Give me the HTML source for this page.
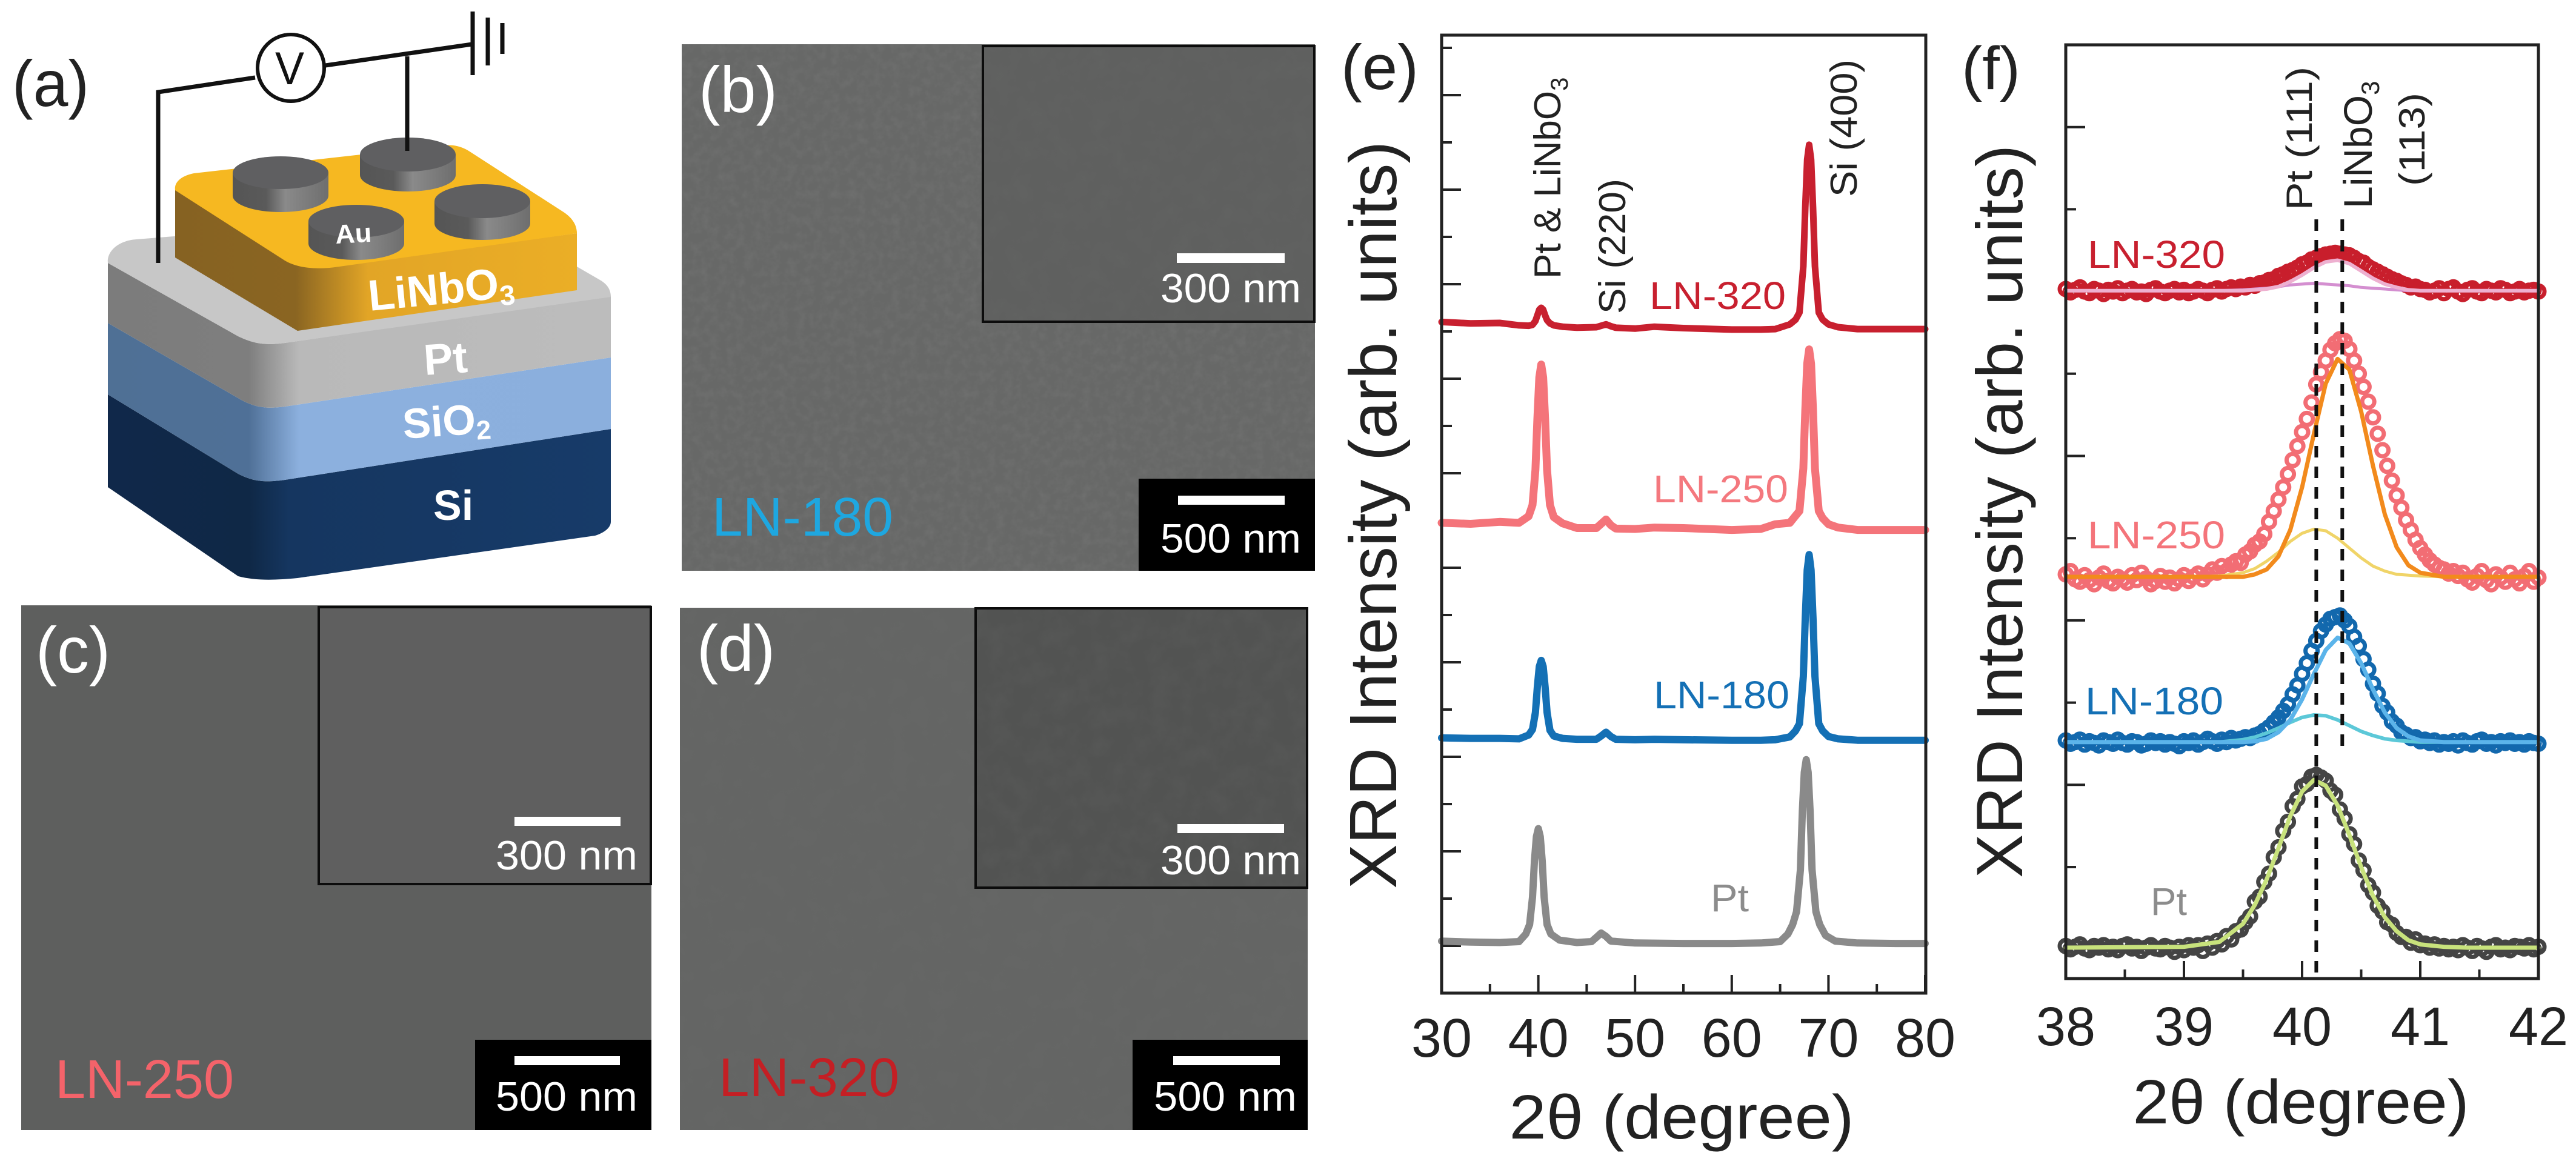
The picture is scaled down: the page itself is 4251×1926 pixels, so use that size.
<!DOCTYPE html>
<html lang="en">
<head>
<meta charset="utf-8">
<title>LiNbO3 device schematic, SEM images and XRD patterns</title>
<style>
html,body{margin:0;padding:0;background:#fff}
svg{display:block}
text{font-family:"Liberation Sans",sans-serif}
</style>
</head>
<body>
<svg id="fig" xmlns="http://www.w3.org/2000/svg" width="4251" height="1926" viewBox="0 0 4251 1926">
<defs>
<filter id="grain" x="0" y="0" width="100%" height="100%"><feTurbulence type="fractalNoise" baseFrequency="0.07" numOctaves="3" seed="4"/><feColorMatrix type="matrix" values="0 0 0 0 0.5  0 0 0 0 0.5  0 0 0 0 0.5  1.6 0 0 0 -0.6"/></filter>
<filter id="grainDark" x="0" y="0" width="100%" height="100%"><feTurbulence type="fractalNoise" baseFrequency="0.03" numOctaves="3" seed="9"/><feColorMatrix type="matrix" values="0 0 0 0 0.2  0 0 0 0 0.2  0 0 0 0 0.2  1.4 0 0 0 -0.5"/></filter>
<linearGradient id="gSi" x1="178" x2="1008" y1="0" y2="0" gradientUnits="userSpaceOnUse"><stop offset="0" stop-color="#10284a"/><stop offset=".28" stop-color="#0f2846"/><stop offset=".36" stop-color="#153660"/><stop offset="1" stop-color="#173b69"/></linearGradient>
<linearGradient id="gSiO2" x1="178" x2="1008" y1="0" y2="0" gradientUnits="userSpaceOnUse"><stop offset="0" stop-color="#4f7095"/><stop offset=".28" stop-color="#4f7097"/><stop offset=".38" stop-color="#8cb0de"/><stop offset="1" stop-color="#8bafdd"/></linearGradient>
<linearGradient id="gPt" x1="178" x2="1008" y1="0" y2="0" gradientUnits="userSpaceOnUse"><stop offset="0" stop-color="#7c7c7c"/><stop offset=".28" stop-color="#7e7e7e"/><stop offset=".38" stop-color="#b9b9b9"/><stop offset="1" stop-color="#bcbcbc"/></linearGradient>
<linearGradient id="gLN" x1="289" x2="952" y1="0" y2="0" gradientUnits="userSpaceOnUse"><stop offset="0" stop-color="#866222"/><stop offset=".3" stop-color="#8a6522"/><stop offset=".48" stop-color="#e2a526"/><stop offset="1" stop-color="#ebae26"/></linearGradient>
<linearGradient id="gCyl" x1="0" x2="1" y1="0" y2="0"><stop offset="0" stop-color="#555"/><stop offset=".35" stop-color="#5a5a5a"/><stop offset=".55" stop-color="#8a8a8a"/><stop offset="1" stop-color="#6e6e6e"/></linearGradient>
</defs>

<g>
 <text x="20" y="175" font-size="108" textLength="127" lengthAdjust="spacingAndGlyphs" fill="#222">(a)</text>
 <path fill="url(#gSi)" d="M178 651L393 782C420 796 440 796 470 792L1008 708V861C1008 872 995 880 982 884L491 954C450 958 420 958 393 951L178 804Z"/>
 <path fill="url(#gSiO2)" d="M178 533L393 657C420 673 440 675 470 671L1008 590V708L470 792C440 796 420 796 393 782L178 651Z"/>
 <path fill="url(#gPt)" d="M178 434L393 555C420 568 440 570 470 566L1008 488V590L470 671C440 675 420 673 393 657L178 533Z"/>
 <path fill="#c7c7c7" d="M178 434C176 415 195 397 225 395L300 389L952 440L990 462C1004 470 1008 480 1008 490L470 566C440 570 420 568 393 555Z"/>
 <path fill="url(#gLN)" d="M289 312V425L491 546L952 479V385L540 440Z"/>
 <path fill="#f6b821" d="M289 314C287 300 300 290 320 286L730 240C750 238 762 242 775 250L930 350C948 362 952 375 952 385L560 440C520 446 490 442 470 430Z"/>
 <g><path fill="url(#gCyl)" d="M384 285V323A79 27 0 0 0 542 323V285Z"/><ellipse cx="463" cy="285" rx="79" ry="27" fill="#5f5f61"/></g>
 <g><path fill="url(#gCyl)" d="M594 255V289A79 27 0 0 0 752 289V255Z"/><ellipse cx="673" cy="255" rx="79" ry="28" fill="#5f5f61"/></g>
 <g><path fill="url(#gCyl)" d="M717 332V369A79 27 0 0 0 875 369V332Z"/><ellipse cx="796" cy="332" rx="79" ry="28" fill="#5f5f61"/></g>
 <g><path fill="url(#gCyl)" d="M509 365V402A79 27 0 0 0 667 402V365Z"/><ellipse cx="588" cy="365" rx="79" ry="27" fill="#5f5f61"/></g>
 <text x="554" y="402" font-size="44" font-weight="bold" fill="#fff" textLength="60" lengthAdjust="spacingAndGlyphs" transform="rotate(-3 554 402)">Au</text>
 <text x="610" y="513" font-size="72" font-weight="bold" fill="#fff" transform="rotate(-5.5 610 513)">LiNbO<tspan font-size="46" dy="12">3</tspan></text>
 <text x="701" y="619" font-size="72" font-weight="bold" fill="#fff" transform="rotate(-4 701 619)">Pt</text>
 <text x="666" y="724" font-size="70" font-weight="bold" fill="#fff" transform="rotate(-4 666 724)">SiO<tspan font-size="44" dy="10">2</tspan></text>
 <text x="715" y="858" font-size="70" font-weight="bold" fill="#fff">Si</text>
 <path d="M261 434V152L421 128M537 108L779 73M672 93V249" fill="none" stroke="#111" stroke-width="7"/>
 <circle cx="480" cy="112" r="55" fill="#fff" stroke="#111" stroke-width="6"/>
 <text x="478" y="139" font-size="76" text-anchor="middle" fill="#111" textLength="48" lengthAdjust="spacingAndGlyphs">V</text>
 <path d="M780 19V124M805 29V108M829 38V89" fill="none" stroke="#111" stroke-width="7"/>
</g>

<g>
 <rect x="1125" y="73" width="1045" height="869" fill="#676867"/>
 <rect x="1125" y="73" width="1045" height="869" filter="url(#grain)" opacity=".1"/>
 <rect x="1622" y="76" width="547" height="455" fill="#5f605f" stroke="#0c0c0c" stroke-width="4"/>
 <rect x="1624" y="78" width="543" height="451" filter="url(#grainDark)" opacity=".12"/>
 <rect x="1879" y="790" width="291" height="152" fill="#000"/>
 <rect x="1942" y="418" width="178" height="16" fill="#fff"/>
 <text x="1915" y="499" font-size="68" fill="#fff" textLength="232" lengthAdjust="spacingAndGlyphs">300 nm</text>
 <rect x="1944" y="818" width="176" height="15" fill="#fff"/>
 <text x="1915" y="912" font-size="68" fill="#fff" textLength="232" lengthAdjust="spacingAndGlyphs">500 nm</text>
 <text x="1153" y="185" font-size="108" fill="#fff" textLength="130" lengthAdjust="spacingAndGlyphs">(b)</text>
 <text x="1175" y="884" font-size="90" fill="#1ea7e0" textLength="299" lengthAdjust="spacingAndGlyphs">LN-180</text>
</g>

<g>
 <rect x="35" y="999" width="1040" height="866" fill="#5e5f5e"/>
 <rect x="526" y="1002" width="548" height="457" fill="#5f5f5f" stroke="#0c0c0c" stroke-width="4"/>
 <rect x="784" y="1716" width="291" height="149" fill="#000"/>
 <rect x="849" y="1348" width="175" height="15" fill="#fff"/>
 <text x="818" y="1435" font-size="68" fill="#fff" textLength="234" lengthAdjust="spacingAndGlyphs">300 nm</text>
 <rect x="849" y="1743" width="174" height="15" fill="#fff"/>
 <text x="818" y="1833" font-size="68" fill="#fff" textLength="234" lengthAdjust="spacingAndGlyphs">500 nm</text>
 <text x="59" y="1110" font-size="108" fill="#fff" textLength="123" lengthAdjust="spacingAndGlyphs">(c)</text>
 <text x="91" y="1812" font-size="90" fill="#f4636a" textLength="295" lengthAdjust="spacingAndGlyphs">LN-250</text>
</g>

<g>
 <rect x="1122" y="1003" width="1036" height="862" fill="#646564"/>
 <rect x="1122" y="1003" width="1036" height="862" filter="url(#grainDark)" opacity=".1"/>
 <rect x="1610" y="1004" width="547" height="461" fill="#525352" stroke="#0c0c0c" stroke-width="4"/>
 <rect x="1612" y="1006" width="543" height="457" filter="url(#grainDark)" opacity=".16"/>
 <rect x="1869" y="1716" width="289" height="149" fill="#000"/>
 <rect x="1943" y="1360" width="176" height="15" fill="#fff"/>
 <text x="1915" y="1443" font-size="68" fill="#fff" textLength="232" lengthAdjust="spacingAndGlyphs">300 nm</text>
 <rect x="1936" y="1743" width="176" height="15" fill="#fff"/>
 <text x="1904" y="1833" font-size="68" fill="#fff" textLength="236" lengthAdjust="spacingAndGlyphs">500 nm</text>
 <text x="1150" y="1107" font-size="108" fill="#fff" textLength="129" lengthAdjust="spacingAndGlyphs">(d)</text>
 <text x="1186" y="1809" font-size="90" fill="#c41f24" textLength="298" lengthAdjust="spacingAndGlyphs">LN-320</text>
</g>

<g id="panelE">
 <text x="2213" y="147" font-size="105" fill="#222" textLength="128" lengthAdjust="spacingAndGlyphs">(e)</text>
 <text transform="translate(2304,1467) rotate(-90)" font-size="110" fill="#222" textLength="1234" lengthAdjust="spacingAndGlyphs">XRD Intensity (arb. units)</text>
 <text x="2775" y="1879" font-size="103" text-anchor="middle" fill="#222" textLength="569" lengthAdjust="spacingAndGlyphs">2θ (degree)</text>
</g>
<g id="panelEText">
 <text transform="translate(2575,460) rotate(-90)" font-size="62" fill="#222">Pt &amp; LiNbO<tspan font-size="40" dy="12">3</tspan></text>
 <text transform="translate(2682,518) rotate(-90)" font-size="62" fill="#222" textLength="223" lengthAdjust="spacingAndGlyphs">Si (220)</text>
 <text transform="translate(3064,325) rotate(-90)" font-size="62" fill="#222" textLength="227" lengthAdjust="spacingAndGlyphs">Si (400)</text>
 <text x="2722" y="510" font-size="64" fill="#c8202f" textLength="225" lengthAdjust="spacingAndGlyphs">LN-320</text>
 <text x="2728" y="829" font-size="64" fill="#f4787e" textLength="223" lengthAdjust="spacingAndGlyphs">LN-250</text>
 <text x="2729" y="1169" font-size="64" fill="#1470b5" textLength="224" lengthAdjust="spacingAndGlyphs">LN-180</text>
 <text x="2823" y="1504" font-size="64" fill="#8c8c8c" textLength="63" lengthAdjust="spacingAndGlyphs">Pt</text>
</g>

<g id="panelF">
 <text x="3237" y="147" font-size="100" fill="#222" textLength="97" lengthAdjust="spacingAndGlyphs">(f)</text>
 <text transform="translate(3337,1449) rotate(-90)" font-size="108" fill="#222" textLength="1210" lengthAdjust="spacingAndGlyphs">XRD Intensity (arb. units)</text>
 <text x="3797" y="1854" font-size="103" text-anchor="middle" fill="#222" textLength="555" lengthAdjust="spacingAndGlyphs">2θ (degree)</text>
</g>
<g id="panelFText">
 <text transform="translate(3815,347) rotate(-90)" font-size="60" fill="#222" textLength="237" lengthAdjust="spacingAndGlyphs">Pt (111)</text>
 <text transform="translate(3914,344) rotate(-90)" font-size="66" fill="#222">LiNbO<tspan font-size="42" dy="12">3</tspan></text>
 <text transform="translate(4001,307) rotate(-90)" font-size="60" fill="#222" textLength="154" lengthAdjust="spacingAndGlyphs">(113)</text>
 <text x="3445" y="442" font-size="64" fill="#c8202f" textLength="227" lengthAdjust="spacingAndGlyphs">LN-320</text>
 <text x="3445" y="905" font-size="64" fill="#f4747a" textLength="227" lengthAdjust="spacingAndGlyphs">LN-250</text>
 <text x="3441" y="1179" font-size="64" fill="#1470b5" textLength="228" lengthAdjust="spacingAndGlyphs">LN-180</text>
 <text x="3549" y="1510" font-size="64" fill="#8c8c8c" textLength="60" lengthAdjust="spacingAndGlyphs">Pt</text>
</g>
</svg>

<script>
// ---------- Panel (e) data ----------
const eXTicks = [30, 40, 50, 60, 70, 80];
const eXMinorTicks = [35, 45, 55, 65, 75];
const eYMajorTicks = [1, 3, 5, 7, 9, 11, 13, 15, 17, 19];
const eYMinorTicks = [2, 4, 6, 8, 10, 12, 14, 16, 18, 20];
const eTheta = [30,33,36,38,39,39.4,39.7,39.9,40.1,40.3,40.5,40.7,40.9,41.2,41.6,42.5,44,46,46.5,47,47.5,48,50,52,55,60,63,64.5,66,66.6,67,67.4,67.6,67.8,68,68.2,68.4,68.6,69,69.4,70,71,73,77,80];
const eThetaPt = [30,33,36,38,38.7,39.1,39.4,39.6,39.8,40,40.2,40.4,40.6,40.9,41.3,42.2,44,45.5,46,46.5,47,47.5,50,55,60,63,65,65.8,66.3,66.7,67.1,67.3,67.5,67.7,67.9,68.1,68.3,68.7,69.1,69.7,70.7,73,77,80];
const eLN320 = [14.20,14.17,14.18,14.13,14.12,14.14,14.22,14.34,14.46,14.50,14.46,14.34,14.24,14.17,14.13,14.10,14.08,14.09,14.12,14.15,14.11,14.08,14.06,14.10,14.07,14.04,14.04,14.05,14.15,14.25,14.40,15.38,16.62,17.64,17.95,17.64,16.62,15.38,14.40,14.25,14.15,14.09,14.05,14.05,14.05];
const eLN250 = [9.95,9.93,9.97,9.95,10.09,10.33,11.07,12.15,13.03,13.30,13.03,12.15,11.07,10.33,10.07,9.94,9.84,9.84,9.93,10.02,9.90,9.83,9.82,9.85,9.84,9.80,9.82,9.92,9.95,10.10,10.20,11.10,12.33,13.32,13.62,13.32,12.33,11.10,10.20,10.05,9.92,9.85,9.80,9.80,9.80];
const eLN180 = [5.40,5.39,5.39,5.38,5.46,5.58,5.94,6.48,6.91,7.04,6.91,6.48,5.94,5.56,5.44,5.39,5.37,5.37,5.44,5.52,5.43,5.37,5.36,5.37,5.36,5.35,5.35,5.36,5.42,5.55,5.70,6.70,7.93,8.95,9.28,8.95,7.93,6.70,5.70,5.55,5.43,5.38,5.35,5.35,5.35];
const ePt = [1.10,1.08,1.07,1.09,1.25,1.45,2.03,2.80,3.31,3.48,3.31,2.80,2.03,1.45,1.25,1.12,1.07,1.09,1.18,1.27,1.20,1.10,1.06,1.05,1.05,1.06,1.09,1.25,1.45,1.72,2.61,3.85,4.67,4.94,4.67,3.85,2.61,1.72,1.45,1.22,1.10,1.06,1.05,1.05];

// ---------- Panel (f) data ----------
const fXTicks = [38, 39, 40, 41, 42];
const fXMinorTicks = [38.5, 39.5, 40.5, 41.5];
const fYMajorTicks = [1, 3, 5, 7, 9];
const fYMinorTicks = [0, 2, 4, 6, 8];
const fPeakPositions = [40.12, 40.34];
const fTheta = [38.00,38.04,38.08,38.12,38.16,38.20,38.24,38.28,38.32,38.36,38.40,38.44,38.48,38.52,38.56,38.60,38.64,38.68,38.72,38.76,38.80,38.84,38.88,38.92,38.96,39.00,39.04,39.08,39.12,39.16,39.20,39.24,39.28,39.32,39.36,39.40,39.44,39.48,39.52,39.56,39.60,39.64,39.68,39.72,39.76,39.80,39.84,39.88,39.92,39.96,40.00,40.04,40.08,40.12,40.16,40.20,40.24,40.28,40.32,40.36,40.40,40.44,40.48,40.52,40.56,40.60,40.64,40.68,40.72,40.76,40.80,40.84,40.88,40.92,40.96,41.00,41.04,41.08,41.12,41.16,41.20,41.24,41.28,41.32,41.36,41.40,41.44,41.48,41.52,41.56,41.60,41.64,41.68,41.72,41.76,41.80,41.84,41.88,41.92,41.96,42.00];
const fPtData = [-.96,-1.00,-.97,-.94,-.99,-1.01,-.96,-.98,-.95,-1.00,-.97,-1.01,-.96,-.94,-.99,-.97,-1.02,-.98,-.95,-.99,-1.00,-.96,-.98,-1.03,-.97,-1.01,-.95,-.98,-.95,-1.02,-.93,-.98,-.90,-.94,-.84,-.88,-.78,-.76,-.67,-.60,-.42,-.36,-.18,-.08,.12,.24,.44,.55,.74,.83,.98,1.01,1.10,1.12,1.09,1.05,.93,.88,.70,.59,.40,.28,.08,-.04,-.22,-.31,-.47,-.54,-.67,-.70,-.80,-.85,-.85,-.92,-.88,-.95,-.93,-.98,-.94,-.99,-.96,-1.00,-.97,-1.01,-.95,-.98,-1.02,-.96,-.99,-1.03,-.97,-.95,-1.00,-.98,-1.01,-.96,-.97,-.99,-.95,-1.00,-.97];
const fLN180Data = [1.54,1.50,1.52,1.55,1.49,1.53,1.51,1.48,1.54,1.52,1.50,1.55,1.51,1.49,1.53,1.52,1.48,1.50,1.54,1.51,1.53,1.49,1.52,1.50,1.47,1.53,1.51,1.54,1.49,1.52,1.56,1.53,1.50,1.55,1.52,1.57,1.54,1.56,1.58,1.57,1.60,1.62,1.66,1.70,1.76,1.82,1.90,1.98,2.10,2.21,2.35,2.48,2.63,2.75,2.87,2.95,3.02,3.04,3.06,3.00,2.93,2.80,2.69,2.53,2.40,2.23,2.11,1.96,1.88,1.77,1.72,1.64,1.61,1.57,1.58,1.53,1.55,1.51,1.54,1.49,1.52,1.50,1.53,1.48,1.54,1.51,1.49,1.53,1.55,1.50,1.52,1.48,1.53,1.51,1.54,1.50,1.52,1.49,1.53,1.51,1.50];
const fLN250Data = [3.56,3.60,3.50,3.47,3.55,3.49,3.44,3.52,3.57,3.48,3.45,3.53,3.50,3.46,3.55,3.49,3.58,3.51,3.44,3.48,3.54,3.47,3.52,3.45,3.50,3.55,3.48,3.53,3.57,3.50,3.56,3.62,3.58,3.66,3.60,3.68,3.72,3.70,3.80,3.84,3.92,3.96,4.05,4.20,4.33,4.47,4.62,4.78,4.95,5.12,5.29,5.45,5.65,5.87,6.02,6.16,6.29,6.37,6.42,6.40,6.30,6.16,6.00,5.84,5.66,5.47,5.27,5.07,4.88,4.70,4.52,4.37,4.22,4.10,3.98,3.88,3.80,3.73,3.68,3.64,3.62,3.57,3.60,3.54,3.58,3.50,3.46,3.54,3.60,3.49,3.44,3.56,3.52,3.47,3.58,3.50,3.45,3.54,3.60,3.47,3.52];
const fLN320Data = [7.03,6.99,7.02,7.05,7.00,6.98,7.03,7.01,6.97,7.02,7.00,7.04,6.98,7.01,7.03,6.99,7.00,6.97,7.02,7.04,7.00,6.98,7.01,7.03,6.99,7.02,6.98,7.00,7.03,7.01,6.98,7.02,7.04,7.00,7.03,7.05,7.03,7.06,7.05,7.08,7.07,7.10,7.11,7.14,7.15,7.19,7.21,7.24,7.26,7.29,7.33,7.35,7.39,7.41,7.43,7.45,7.46,7.47,7.46,7.45,7.44,7.41,7.37,7.35,7.30,7.27,7.24,7.21,7.18,7.15,7.13,7.10,7.08,7.05,7.06,7.03,7.02,6.99,7.01,7.04,6.98,7.03,7.05,7.00,6.97,7.02,7.04,7.00,6.98,7.03,7.01,6.99,7.04,7.02,6.98,7.00,7.03,6.99,7.01,7.02,7.00];
const fFitTheta = [38,39,39.3,39.5,39.6,39.7,39.8,39.9,40,40.1,40.2,40.3,40.4,40.5,40.6,40.7,40.8,40.9,41,41.2,41.4,42];
const fPtFit = [-.98,-.97,-.91,-.69,-.46,-.15,.23,.62,.92,1.06,.99,.75,.39,0,-.35,-.61,-.78,-.89,-.94,-.97,-.98,-.98];
const fLN180Main = [1.52,1.52,1.52,1.52,1.53,1.56,1.64,1.79,2.04,2.35,2.64,2.79,2.72,2.48,2.16,1.88,1.69,1.59,1.54,1.52,1.52,1.52];
const fLN180Side = [1.52,1.52,1.52,1.55,1.58,1.63,1.69,1.76,1.82,1.85,1.84,1.79,1.72,1.65,1.60,1.56,1.54,1.53,1.52,1.52,1.52,1.52];
const fLN250Main = [3.53,3.53,3.53,3.53,3.56,3.62,3.78,4.10,4.62,5.27,5.88,6.18,6.05,5.54,4.88,4.29,3.89,3.67,3.58,3.53,3.53,3.53];
const fLN250Side = [3.53,3.53,3.54,3.58,3.63,3.72,3.83,3.96,4.06,4.11,4.09,4.00,3.88,3.76,3.66,3.60,3.56,3.55,3.54,3.53,3.53,3.53];
const fLN320Main = [7.01,7.01,7.01,7.01,7.02,7.03,7.06,7.12,7.20,7.29,7.36,7.38,7.34,7.25,7.16,7.09,7.05,7.02,7.01,7.01,7.01,7.01];
const fLN320Side = [7.01,7.01,7.01,7.02,7.03,7.04,7.06,7.08,7.09,7.10,7.09,7.08,7.07,7.05,7.04,7.03,7.02,7.01,7.01,7.01,7.01,7.01];

// ---------- Axis functions ----------
const xE = v => 2379 + (v - 30) * 15.96;
const yE = v => 1639 - v * 78;
const xF = v => 3409 + (v - 38) * 195;
const yF = v => 1431 - v * 135.7;

const NS = 'http://www.w3.org/2000/svg';
const fig = document.getElementById('fig');
const panelE = document.getElementById('panelE');
const panelF = document.getElementById('panelF');

function node(tag, parent) {
  const el = document.createElementNS(NS, tag);
  parent.appendChild(el);
  return el;
}
function curve(xs, ys, xf, yf) {
  return xs.map((x, i) => (i ? 'L' : 'M') + xf(x).toFixed(1) + ' ' + yf(ys[i]).toFixed(1)).join('');
}
function drawLine(parent, xs, ys, xf, yf, color, width, name) {
  const el = node('path', parent);
  el.setAttribute('d', curve(xs, ys, xf, yf));
  el.setAttribute('fill', 'none');
  el.setAttribute('stroke', color);
  el.setAttribute('stroke-width', width);
  el.setAttribute('stroke-linejoin', 'round');
  el.setAttribute('stroke-linecap', 'round');
  
  
}
function drawPoints(parent, xs, ys, color, name) {
  const g = node('g', parent);
  
  
  xs.forEach((x, i) => {
    const el = node('circle', g);
    el.setAttribute('cx', xF(x).toFixed(1));
    el.setAttribute('cy', yF(ys[i]).toFixed(1));
    el.setAttribute('r', 10);
    el.setAttribute('fill', 'none');
    el.setAttribute('stroke', color);
    el.setAttribute('stroke-width', 7);
    
    
  });
}
function tickMark(parent, x1, y1, x2, y2, name) {
  const el = node('line', parent);
  el.setAttribute('x1', x1);
  el.setAttribute('y1', y1);
  el.setAttribute('x2', x2);
  el.setAttribute('y2', y2);
  el.setAttribute('stroke', '#222');
  el.setAttribute('stroke-width', 4);
  
  
}
function tickLabel(parent, x, y, label, width, name) {
  const el = node('text', parent);
  el.setAttribute('x', x);
  el.setAttribute('y', y);
  el.setAttribute('font-size', 90);
  el.setAttribute('fill', '#222');
  el.setAttribute('text-anchor', 'middle');
  el.setAttribute('textLength', width);
  el.setAttribute('lengthAdjust', 'spacingAndGlyphs');
  el.textContent = label;
  
  
}
function frame(parent, x, y, w, h, name) {
  const el = node('rect', parent);
  el.setAttribute('x', x);
  el.setAttribute('y', y);
  el.setAttribute('width', w);
  el.setAttribute('height', h);
  el.setAttribute('fill', 'none');
  el.setAttribute('stroke', '#222');
  el.setAttribute('stroke-width', 5);
  
  
}

// ---------- Panel (e) ----------
eYMajorTicks.forEach(v => tickMark(panelE, 2379, yE(v), 2411, yE(v), 'e-y-major-tick'));
eYMinorTicks.forEach(v => tickMark(panelE, 2379, yE(v), 2396, yE(v), 'e-y-minor-tick'));
eXTicks.forEach(v => {
  tickMark(panelE, xE(v), 1639, xE(v), 1609, 'e-x-major-tick');
  tickLabel(panelE, xE(v), 1744, String(v), 100, 'e-x-tick-label');
});
eXMinorTicks.forEach(v => tickMark(panelE, xE(v), 1639, xE(v), 1624, 'e-x-minor-tick'));
drawLine(panelE, eThetaPt, ePt, xE, yE, '#8a8a8a', 12, 'e-series-pt');
drawLine(panelE, eTheta, eLN180, xE, yE, '#1470b5', 12, 'e-series-ln-180');
drawLine(panelE, eTheta, eLN250, xE, yE, '#f4747a', 13, 'e-series-ln-250');
drawLine(panelE, eTheta, eLN320, xE, yE, '#c8202f', 11, 'e-series-ln-320');
frame(panelE, 2379, 58, 799, 1581, 'e-plot-frame');

// ---------- Panel (f) ----------
fYMajorTicks.forEach(v => tickMark(panelF, 3409, yF(v), 3441, yF(v), 'f-y-major-tick'));
fYMinorTicks.forEach(v => tickMark(panelF, 3409, yF(v), 3426, yF(v), 'f-y-minor-tick'));
fXTicks.forEach(v => {
  tickMark(panelF, xF(v), 1615, xF(v), 1586, 'f-x-major-tick');
  tickLabel(panelF, xF(v), 1725, String(v), 98, 'f-x-tick-label');
});
fXMinorTicks.forEach(v => tickMark(panelF, xF(v), 1615, xF(v), 1600, 'f-x-minor-tick'));

drawPoints(panelF, fTheta, fPtData, '#444444', 'f-data-pt');
drawPoints(panelF, fTheta, fLN180Data, '#1268ad', 'f-data-ln-180');
drawPoints(panelF, fTheta, fLN250Data, '#f26d74', 'f-data-ln-250');
drawPoints(panelF, fTheta, fLN320Data, '#c81e2c', 'f-data-ln-320');

drawLine(panelF, fFitTheta, fPtFit, xF, yF, '#c8e27c', 7, 'f-fit-pt');
drawLine(panelF, fFitTheta, fLN180Side, xF, yF, '#5cc8d8', 6, 'f-fit-ln-180-pt-component');
drawLine(panelF, fFitTheta, fLN180Main, xF, yF, '#5bb4ea', 7, 'f-fit-ln-180-linbo3-component');
drawLine(panelF, fFitTheta, fLN250Side, xF, yF, '#f0d468', 5, 'f-fit-ln-250-pt-component');
drawLine(panelF, fFitTheta, fLN250Main, xF, yF, '#f28a1c', 7, 'f-fit-ln-250-linbo3-component');
drawLine(panelF, fFitTheta, fLN320Side, xF, yF, '#d48fd0', 5, 'f-fit-ln-320-pt-component');
drawLine(panelF, fFitTheta, fLN320Main, xF, yF, '#eeb0d0', 6, 'f-fit-ln-320-linbo3-component');

fPeakPositions.forEach((p, i) => {
  const el = node('line', panelF);
  el.setAttribute('x1', xF(p));
  el.setAttribute('x2', xF(p));
  el.setAttribute('y1', 362);
  el.setAttribute('y2', i === 0 ? 1612 : 1235);
  el.setAttribute('stroke', '#111');
  el.setAttribute('stroke-width', 6);
  el.setAttribute('stroke-dasharray', '19 15');
  
  
});
frame(panelF, 3409, 74, 780, 1541, 'f-plot-frame');
</script>
</body>
</html>
